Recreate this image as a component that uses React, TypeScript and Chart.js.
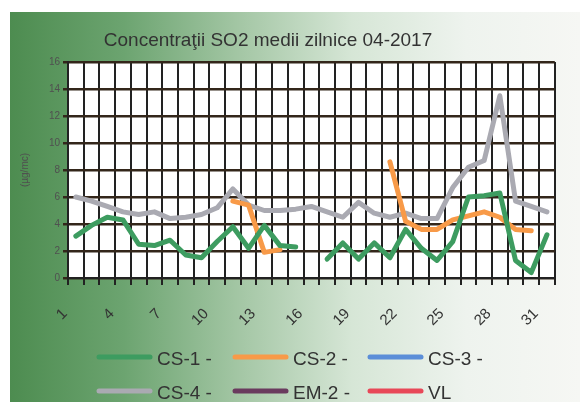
import React, { useEffect, useRef } from 'react';
import { Chart, registerables } from 'chart.js';

Chart.register(...registerables);

const FONT = '"Liberation Sans", Arial, sans-serif';

const chartTitle = 'Concentraţii SO2 medii zilnice 04-2017';
const yAxisTitle = '(µg/mc)';

const days = [
  '1', '2', '3', '4', '5', '6', '7', '8', '9', '10',
  '11', '12', '13', '14', '15', '16', '17', '18', '19', '20',
  '21', '22', '23', '24', '25', '26', '27', '28', '29', '30', '31',
];

const cs1 = [3.1, 3.9, 4.5, 4.3, 2.5, 2.4, 2.8, 1.7, 1.5, 2.7, 3.8, 2.2, 3.9, 2.4, 2.3, null,
  1.4, 2.6, 1.4, 2.6, 1.5, 3.6, 2.2, 1.3, 2.7, 6.0, 6.1, 6.3, 1.3, 0.4, 3.2];
const cs2 = [null, null, null, null, null, null, null, null, null, null,
  5.7, 5.4, 1.9, 2.1, null, null, null, null, null, null,
  8.6, 4.2, 3.6, 3.6, 4.3, 4.6, 4.9, 4.5, 3.6, 3.5, null];
const cs3: (number | null)[] = days.map(() => null);
const cs4 = [6.0, 5.7, 5.3, 4.9, 4.7, 4.9, 4.4, 4.5, 4.7, 5.2, 6.6, 5.4, 5.0, 5.0, 5.1, 5.3,
  4.9, 4.5, 5.6, 4.8, 4.5, 4.8, 4.4, 4.4, 6.7, 8.2, 8.7, 13.5, 5.7, 5.3, 4.9];
const em2: (number | null)[] = days.map(() => null);
const vl: (number | null)[] = days.map(() => null);

const seriesLabels = ['CS-1 -', 'CS-2 -', 'CS-3 -', 'CS-4 -', 'EM-2 -', 'VL'];
const seriesColors = ['#3d9c60', '#f89a48', '#5b8ed8', '#aaaab2', '#6a3b5e', '#e84858'];
const seriesData = [cs1, cs2, cs3, cs4, em2, vl];

const yMin = 0;
const yMax = 16;
const yStep = 2;
const labelEvery = 3;

const decor = {
  id: 'decor',
  beforeDraw(chart: any) {
    const { ctx, width, height, chartArea } = chart;
    ctx.save();
    ctx.fillStyle = '#ffffff';
    ctx.fillRect(0, 0, width, height);
    const g = ctx.createLinearGradient(10, 0, width, 0);
    g.addColorStop(0, '#4d8c50');
    g.addColorStop(0.2, '#6ca470');
    g.addColorStop(0.4, '#a3c6a4');
    g.addColorStop(0.6, '#d6e6d6');
    g.addColorStop(0.8, '#eef3ee');
    g.addColorStop(1, '#f6f7f4');
    ctx.fillStyle = g;
    ctx.fillRect(10, 12, width - 10, height - 12);
    ctx.fillStyle = '#ffffff';
    ctx.fillRect(chartArea.left, chartArea.top, chartArea.right - chartArea.left, chartArea.bottom - chartArea.top);
    ctx.restore();
  },
  afterDraw(chart: any) {
    const { ctx } = chart;
    ctx.save();
    ctx.fillStyle = '#333333';
    ctx.font = `19px ${FONT}`;
    ctx.textAlign = 'center';
    ctx.textBaseline = 'middle';
    ctx.fillText(chartTitle, 268, 41);

    const colX = [97, 233, 368];
    const rowY = [357, 391];
    const lineLen = 55;
    chart.data.datasets.forEach((ds: any, i: number) => {
      const x = colX[i % 3];
      const y = rowY[Math.floor(i / 3)];
      ctx.strokeStyle = ds.borderColor;
      ctx.lineWidth = 5;
      ctx.lineCap = 'round';
      ctx.beginPath();
      ctx.moveTo(x + 2, y);
      ctx.lineTo(x + lineLen - 2, y);
      ctx.stroke();
      ctx.fillStyle = '#333333';
      ctx.font = `19px ${FONT}`;
      ctx.textAlign = 'left';
      ctx.textBaseline = 'middle';
      ctx.fillText(ds.label, x + lineLen + 5, y + 3);
    });
    ctx.restore();
  },
};

export default function App() {
  const ref = useRef<HTMLCanvasElement>(null);
  useEffect(() => {
    document.body.style.margin = '0';
    document.body.style.overflow = 'hidden';
    const chart = new Chart(ref.current as HTMLCanvasElement, {
      type: 'line',
      data: {
        labels: days,
        datasets: seriesData.map((d, i) => ({
          label: seriesLabels[i],
          data: d,
          borderColor: seriesColors[i],
          backgroundColor: seriesColors[i],
          borderWidth: 5,
          pointRadius: 0,
          tension: 0,
          spanGaps: false,
          borderCapStyle: 'round',
          borderJoinStyle: 'round',
        })),
      },
      options: {
        responsive: false,
        animation: false,
        devicePixelRatio: 1,
        layout: { padding: { left: 0, top: 62, right: 20, bottom: 0 } },
        plugins: {
          legend: { display: false },
          title: { display: false },
          tooltip: { enabled: false },
        },
        scales: {
          x: {
            offset: true,
            grid: { offset: true, color: '#222222', lineWidth: 2, tickLength: 7, drawTicks: true },
            border: { color: '#222222', width: 2 },
            ticks: {
              autoSkip: false,
              minRotation: 45,
              maxRotation: 45,
              padding: 20,
              labelOffset: -11,
              color: '#333333',
              font: { family: FONT, size: 15 },
              callback: (_v: any, i: number) => (i % labelEvery === 0 ? days[i] : ''),
            },
            afterFit: (s: any) => { s.height = 124; },
          },
          y: {
            min: yMin,
            max: yMax,
            ticks: { stepSize: yStep, color: '#505050', padding: 3, font: { family: FONT, size: 10 } },
            grid: { color: '#33261a', lineWidth: 2.5, tickLength: 5 },
            border: { color: '#222222', width: 2 },
            title: { display: true, text: yAxisTitle, color: '#505050', font: { family: FONT, size: 10 }, padding: { top: 19, bottom: 0 } },
            afterFit: (s: any) => { s.width = 68; },
          },
        },
      },
      plugins: [decor],
    } as any);
    return () => chart.destroy();
  }, []);
  return <canvas ref={ref} width={580} height={402} style={{ display: 'block' }} />;
}
